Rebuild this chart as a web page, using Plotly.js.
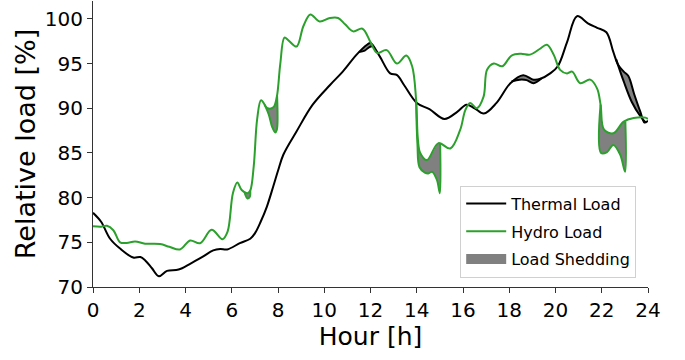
<!DOCTYPE html>
<html><head><meta charset="utf-8">
<script src="https://cdn.plot.ly/plotly-3.0.1.min.js"></script>
<style>html,body{margin:0;padding:0;background:#fff}#chart{width:685px;height:360px}</style>
</head><body><div id="chart"></div>
<script>
// Demand curves
const thermalHour = [0,0.35,0.74,1.17,1.74,2.05,2.25,2.55,2.85,3.2,3.7,4.2,4.75,5.2,5.5,5.8,6.35,6.8,7.0,7.25,7.52,7.8,8.0,8.23,8.8,9.5,10.25,10.8,11.4,11.85,12.0,12.4,12.85,13.15,13.45,14.0,14.55,15.2,15.75,16.15,16.5,16.9,17.45,18.05,18.6,19.05,19.35,19.77,20.1,20.5,20.93,21.4,21.8,22.2,22.5,22.7,22.95,23.15,23.4,23.67,23.85,24];
const thermalLoad = [78.3,77.3,75.4,74.3,73.3,73.35,73.0,72.1,71.2,71.8,71.95,72.6,73.4,74.1,74.25,74.2,74.9,75.4,76.0,77.3,79.0,81.3,83.0,84.8,87.4,90.4,92.6,94.1,96.0,97.1,97.3,95.8,93.9,93.7,92.6,90.6,89.9,88.8,89.6,90.4,90.0,89.4,90.6,92.8,93.7,93.2,93.3,93.9,94.7,97.4,100.3,99.5,99.0,98.5,96.3,94.9,94.1,93.6,91.6,89.6,88.4,88.6];

const hydroHour = [0,0.35,0.6,0.88,1.17,1.46,1.82,2.25,2.9,3.3,3.76,4.2,4.63,5.13,5.6,5.82,6.05,6.24,6.43,6.68,6.8,6.95,7.1,7.27,7.55,7.8,7.95,8.1,8.28,8.45,8.8,9.1,9.4,9.8,10.25,10.6,10.9,11.25,11.65,12.0,12.28,12.7,13.14,13.55,13.8,13.97,14.05,14.15,14.44,14.94,15.45,15.88,16.1,16.31,16.6,16.89,17.04,17.33,17.7,18.1,18.5,18.9,19.3,19.63,19.92,20.2,20.5,20.72,21.07,21.5,21.8,21.95,22.1,22.5,22.95,23.38,23.89,24];
const hydroLoad = [76.8,76.75,76.85,76.35,75.0,74.93,75.1,74.85,74.8,74.5,74.2,75.2,74.9,76.4,75.35,76.2,80.5,81.7,80.85,80.5,80.8,83.5,88.8,90.9,90.0,90.1,91.3,95.0,97.9,97.6,96.9,99.2,100.5,99.7,100.1,100.1,99.4,98.6,98.9,97.4,96.2,96.5,95.0,95.9,94.7,91.0,86.5,85.0,84.2,86.1,85.5,87.6,89.8,90.6,90.0,91.3,94.3,95.0,94.7,95.9,96.1,96.0,96.6,97.1,96.0,94.3,93.9,94.1,92.8,93.2,92.2,90.4,87.6,87.2,88.5,88.9,88.95,88.8];

// Served load during shedding windows
const thermalShedHour = [
  [11.5,11.75,11.95,12.1],
  [18.1,18.45,18.75,19.05,19.4],
  [22.62,22.95,23.3,23.67,23.9]
];
const thermalShedLoad = [
  [96.3,96.45,96.85,97.0],
  [93.0,93.2,93.15,92.8,93.35],
  [95.5,93.0,90.7,89.1,88.4]
];
const hydroShedHour = [
  [6.55,6.68,6.78,6.8],
  [7.42,7.6,7.75,7.88,7.95,7.96],
  [13.97,14.03,14.12,14.35,14.5,14.66,14.87,15.0,15.01],
  [21.95,21.97,22.23,22.5,22.8,23.01,23.02]
];
const hydroShedLoad = [
  [80.6,79.9,80.1,80.8],
  [90.4,89.3,87.9,87.3,87.6,91.4],
  [91.0,86.0,83.4,82.8,82.7,82.9,82.0,80.5,86.1],
  [90.4,85.0,85.1,85.9,84.8,82.9,88.5]
];

const xTicks = [0,2,4,6,8,10,12,14,16,18,20,22,24];
const yTicks = [70,75,80,85,90,95,100];
const seriesNames = ['Thermal Load','Hydro Load','Load Shedding'];

const BLACK = '#000000', GREEN = '#2ca02c', GREY = '#808080';
const FONT = 'DejaVu Sans, Verdana, sans-serif';

function demandSegment(hours, loads, sx, sy) {
  const t0 = sx[0], t1 = sx[sx.length - 1];
  const x = [t0], y = [sy[0]];
  for (let i = 0; i < hours.length; i++) {
    if (hours[i] > t0 && hours[i] < t1) { x.push(hours[i]); y.push(loads[i]); }
  }
  x.push(t1); y.push(sy[sy.length - 1]);
  return {x, y};
}

const traces = [];
function addShed(hours, loads, shedH, shedL, color) {
  for (let k = 0; k < shedH.length; k++) {
    const seg = demandSegment(hours, loads, shedH[k], shedL[k]);
    traces.push({x: seg.x, y: seg.y, type: 'scatter', mode: 'lines',
      line: {width: 0, shape: 'spline'}, showlegend: false, hoverinfo: 'skip'});
    traces.push({x: shedH[k], y: shedL[k], type: 'scatter', mode: 'lines',
      line: {color: color, width: 2, shape: 'spline'}, fill: 'tonexty', fillcolor: GREY,
      showlegend: false, hoverinfo: 'skip'});
  }
}
addShed(thermalHour, thermalLoad, thermalShedHour, thermalShedLoad, BLACK);
addShed(hydroHour, hydroLoad, hydroShedHour, hydroShedLoad, GREEN);

traces.push({x: thermalHour, y: thermalLoad, type: 'scatter', mode: 'lines', name: seriesNames[0],
  line: {color: BLACK, width: 2, shape: 'spline'}, legendrank: 1, legendgroup: 'a'});
traces.push({x: hydroHour, y: hydroLoad, type: 'scatter', mode: 'lines', name: seriesNames[1],
  line: {color: GREEN, width: 2, shape: 'spline'}, legendrank: 2, legendgroup: 'b'});
traces.push({x: [null], y: [null], type: 'scatter', mode: 'lines', name: seriesNames[2],
  line: {width: 14, color: GREY}, legendrank: 3, legendgroup: 'c'});

const layout = {
  width: 685, height: 360,
  margin: {l: 93, r: 37, t: 1, b: 73, pad: 0},
  paper_bgcolor: '#ffffff', plot_bgcolor: '#ffffff',
  font: {family: FONT, color: '#000'},
  showlegend: true,
  legend: {x: 0.6616, y: 0.033, xanchor: 'left', yanchor: 'bottom',
    font: {family: FONT, size: 16, color: '#000'},
    bgcolor: 'rgba(255,255,255,0.9)', bordercolor: '#d0d0d0', borderwidth: 1,
    tracegroupgap: 4, traceorder: 'grouped', itemwidth: 40},
  xaxis: {range: [0, 24], tickvals: xTicks, ticktext: xTicks.map(String),
    ticks: 'outside', ticklen: 5, tickwidth: 1, tickcolor: '#333',
    showline: true, linecolor: '#333', linewidth: 1, showgrid: false, zeroline: false,
    tickfont: {family: FONT, size: 20, color: '#000'},
    title: {text: 'Hour [h]', font: {family: FONT, size: 25, color: '#000'}, standoff: 6},
    automargin: false},
  yaxis: {range: [70, 102], tickvals: yTicks, ticktext: yTicks.map(String),
    ticks: 'outside', ticklen: 5, tickwidth: 1, tickcolor: '#333',
    showline: true, linecolor: '#333', linewidth: 1, showgrid: false, zeroline: false,
    tickfont: {family: FONT, size: 20, color: '#000'},
    title: {text: 'Relative load [%]', font: {family: FONT, size: 27, color: '#000'}, standoff: 1},
    automargin: false}
};

Plotly.newPlot('chart', traces, layout, {displayModeBar: false, staticPlot: true});
</script>
</body></html>
